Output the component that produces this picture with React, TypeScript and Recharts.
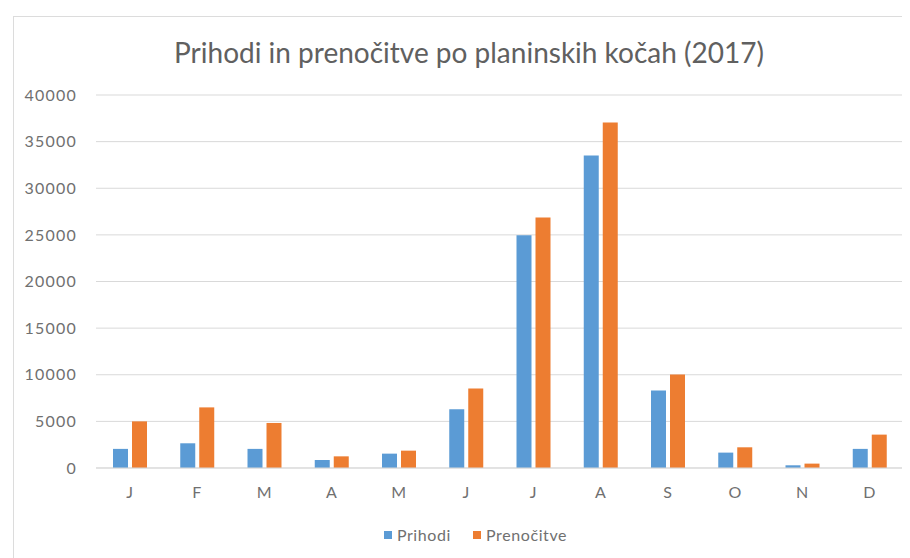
import { BarChart, Bar, XAxis, YAxis, CartesianGrid, Legend } from 'recharts'

const months = ['J', 'F', 'M', 'A', 'M', 'J', 'J', 'A', 'S', 'O', 'N', 'D']
const prihodi = [2050, 2650, 2050, 860, 1540, 6300, 24950, 33500, 8300, 1650, 290, 2050]
const prenocitve = [5000, 6500, 4830, 1250, 1860, 8520, 26850, 37050, 10030, 2220, 470, 3580]
const yTicks = [0, 5000, 10000, 15000, 20000, 25000, 30000, 35000, 40000]
const seriesOrder = ['Prihodi', 'Prenočitve']

const data = months.map((m, i) => ({
  key: `${m}-${i}`,
  month: m,
  Prihodi: prihodi[i],
  'Prenočitve': prenocitve[i],
}))

const FONT = 'Lato, "Open Sans", sans-serif'
const TEXT = '#707070'

// keep the series order of the original (recharts sorts by name otherwise)
function LegendContent(props: any) {
  const items = [...(props.payload ?? [])].sort(
    (a: any, b: any) => seriesOrder.indexOf(a.value) - seriesOrder.indexOf(b.value)
  )
  return (
    <div style={{ display: 'flex', justifyContent: 'center', gap: 22, paddingLeft: 26 }}>
      {items.map((it: any) => (
        <div key={it.value} style={{ display: 'flex', alignItems: 'center', gap: 5 }}>
          <span style={{ width: 8, height: 8, background: it.color, display: 'inline-block' }} />
          <span style={{ color: TEXT, fontSize: 16, fontFamily: FONT, letterSpacing: 0.6 }}>{it.value}</span>
        </div>
      ))}
    </div>
  )
}

export default function App() {
  return (
    <div style={{ paddingTop: 8 }}>
      <div
        style={{
          position: 'relative',
          marginLeft: 5,
          width: 897,
          height: 542,
          borderTop: '1.5px solid #dcdcdc',
          borderLeft: '1.5px solid #dcdcdc',
          fontFamily: FONT,
          overflow: 'hidden',
        }}
      >
        <div
          style={{
            position: 'absolute',
            top: 18,
            left: 0,
            width: 910,
            textAlign: 'center',
            fontSize: 28,
            color: '#606060',
            zIndex: 2,
          }}
        >
          Prihodi in prenočitve po planinskih kočah (2017)
        </div>
        <BarChart
          width={897}
          height={542}
          data={data}
          margin={{ top: 78, right: 8, left: 0, bottom: 61 }}
          barSize={15}
          barGap={4}
        >
          <CartesianGrid vertical={false} stroke="#d9d9d9" />
          <XAxis
            dataKey="key"
            tickFormatter={(v: string) => v.split('-')[0]}
            axisLine={{ stroke: '#d9d9d9' }}
            tickLine={false}
            tickMargin={13}
            height={30}
            tick={{ fill: TEXT, fontSize: 16, fontFamily: FONT }}
          />
          <YAxis
            width={82}
            domain={[0, 40000]}
            ticks={yTicks}
            axisLine={false}
            tickLine={false}
            tickMargin={13}
            tick={{ fill: TEXT, fontSize: 16, fontFamily: FONT, letterSpacing: 1.2 }}
          />
          <Legend
            verticalAlign="middle"
            align="center"
            layout="horizontal"
            wrapperStyle={{ top: 508, left: 0, width: 897 }}
            content={<LegendContent />}
          />
          <Bar dataKey="Prihodi" fill="#5b9bd5" isAnimationActive={false} />
          <Bar dataKey="Prenočitve" fill="#ed7d31" isAnimationActive={false} />
        </BarChart>
      </div>
    </div>
  )
}
